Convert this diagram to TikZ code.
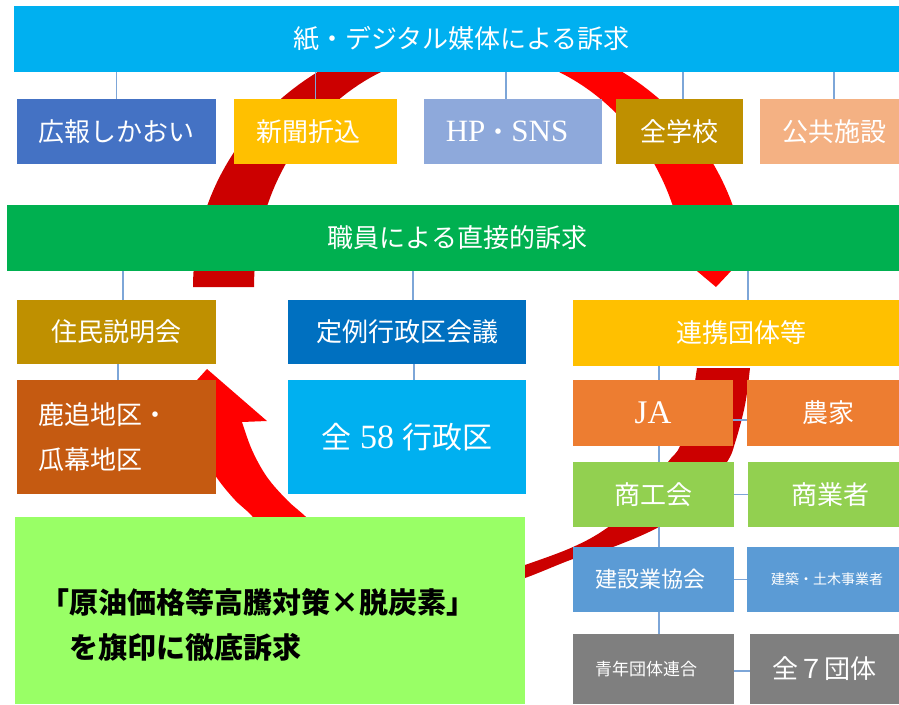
\documentclass[tikz,border=0pt]{standalone}
\usepackage{fontspec}
\setmainfont{Liberation Serif}
\newfontfamily\jp{Noto Sans CJK JP}
\pgfdeclarelayer{bg}
\pgfdeclarelayer{mid}
\pgfsetlayers{bg,mid,main}
\definecolor{cTop}{HTML}{00B0F0}
\definecolor{cBlueA}{HTML}{4472C4}
\definecolor{cGold}{HTML}{FFC000}
\definecolor{cHP}{HTML}{8EA9DB}
\definecolor{cOchre}{HTML}{BF9000}
\definecolor{cPeach}{HTML}{F4B183}
\definecolor{cGreen}{HTML}{00B050}
\definecolor{cDeep}{HTML}{0070C0}
\definecolor{cBrown}{HTML}{C55A11}
\definecolor{cOrange}{HTML}{ED7D31}
\definecolor{cLime}{HTML}{92D050}
\definecolor{cSteel}{HTML}{5B9BD5}
\definecolor{cGray}{HTML}{7F7F7F}
\definecolor{cSlogan}{HTML}{99FF66}
\definecolor{cDarkRed}{HTML}{CC0000}
\definecolor{cRed}{HTML}{FF0000}
\definecolor{cLine}{HTML}{7DA6D8}
\begin{document}
\begin{tikzpicture}[x=1pt,y=-1pt,
  box/.style={anchor=north west, inner sep=0pt, outer sep=0pt, draw=none, text=white,
    font=\jp\fontsize{26}{30}\selectfont},
  conn/.style={draw=cLine, line width=1.3pt}]
\useasboundingbox (0,0) rectangle (899,704);
% ---------- boxes ----------
\node[box, fill=cTop, minimum width=885pt, minimum height=66pt] (top) at (14,6) {\hspace*{10pt}紙・デジタル媒体による訴求};
\node[box, fill=cBlueA, minimum width=199pt, minimum height=65pt] (koho) at (17,99) {広報しかおい};
\node[box, fill=cGold, minimum width=163pt, minimum height=65pt] (shinbun) at (234,99) {新聞折込\hspace*{15pt}};
\node[box, fill=cHP, minimum width=178pt, minimum height=65pt, font=\rmfamily\fontsize{31}{34}\selectfont] (hp) at (424,99) {HP{\jp\fontsize{26}{30}\selectfont ・}SNS\hspace*{12pt}};
\node[box, fill=cOchre, minimum width=127pt, minimum height=65pt] (gakko) at (616,99) {全学校};
\node[box, fill=cPeach, minimum width=139pt, minimum height=65pt] (koukyo) at (760,99) {\hspace*{9pt}公共施設};
\node[box, fill=cGreen, minimum width=892pt, minimum height=66pt] (green) at (7,205) {\hspace*{9pt}職員による直接的訴求};
\node[box, fill=cOchre, minimum width=199pt, minimum height=64pt] (jumin) at (17,300) {住民説明会};
\node[box, fill=cDeep, minimum width=238pt, minimum height=64pt] (teirei) at (288,300) {定例行政区会議};
\node[box, fill=cGold, minimum width=326pt, minimum height=66pt] (renkei) at (573,300) {\hspace*{11pt}連携団体等};
\node[box, fill=cBrown, minimum width=199pt, minimum height=114pt, inner xsep=21pt,
  text width=157pt, align=left, font=\jp\fontsize{26}{45}\selectfont] (shikaoi) at (17,380) {鹿追地区・\\瓜幕地区};
\node[box, fill=cTop, minimum width=238pt, minimum height=114pt,
  font=\fontsize{34}{38}\selectfont] (zen58) at (288,380) {{\jp\fontsize{30}{34}\selectfont 全} 58 {\jp\fontsize{30}{34}\selectfont 行政区}};
\node[box, fill=cOrange, minimum width=160pt, minimum height=66pt, font=\rmfamily\fontsize{33}{36}\selectfont] (ja) at (573,380) {JA};
\node[box, fill=cOrange, minimum width=152pt, minimum height=66pt] (nouka) at (747,380) {\hspace*{10pt}農家};
\node[box, fill=cLime, minimum width=161pt, minimum height=65pt] (shoko) at (573,462) {商工会};
\node[box, fill=cLime, minimum width=151pt, minimum height=65pt] (shogyo) at (748,462) {\hspace*{13pt}商業者};
\node[box, fill=cSteel, minimum width=161pt, minimum height=65pt, font=\jp\fontsize{22}{26}\selectfont] (kensetsu) at (573,547) {建設業協会\hspace*{6pt}};
\node[box, fill=cSteel, minimum width=152pt, minimum height=65pt, font=\jp\fontsize{14}{17}\selectfont] (kenchiku) at (747,547) {\hspace*{8pt}建築・土木事業者};
\node[box, fill=cGray, minimum width=161pt, minimum height=70pt, font=\jp\fontsize{17}{20}\selectfont] (seinen) at (573,634) {青年団体連合\hspace*{15pt}};
\node[box, fill=cGray, minimum width=149pt, minimum height=70pt] (zen7) at (750,634) {全７団体};
\node[box, fill=cSlogan, minimum width=510pt, minimum height=187pt] (sloganbox) at (15,517) {};
\node[anchor=west, align=left, inner sep=0pt, text=black,
  font=\jp\bfseries\fontsize{29}{45}\selectfont] (slogan) at (40,624.5) {「原油価格等高騰対策×脱炭素」\\　を旗印に徹底訴求};
% ---------- red cycle arrows ----------
\begin{pgfonlayer}{bg}
\fill[cDarkRed] plot[domain=180:270.5, samples=50] ({470+277*cos(\x)},{287+257.5*sin(\x)})
  -- plot[domain=270.5:180, samples=50] ({470+216*cos(\x)},{287+236*sin(\x)}) -- cycle;
\fill[cRed] plot[domain=270:348, samples=50] ({470+277*cos(\x)},{287+257.5*sin(\x)})
  -- (765,235) -- (716,287) -- (660,240)
  -- plot[domain=348:270, samples=50] ({470+216*cos(\x)},{287+236*sin(\x)}) -- cycle;
\fill[cDarkRed] plot[smooth, tension=0.6] coordinates {(750,368) (745,405) (735,443) (727,462) (700,500) (657,528) (605,550) (573,559) (525,578) (480,592)}
  -- plot[smooth, tension=0.6] coordinates {(480,580) (525,565) (573,547) (607,528) (640,500) (668,462) (680,446) (690,410) (697,368)} -- cycle;
\fill[cRed] (207,369) -- (267,421) -- (242,422)
  -- plot[smooth, tension=0.6] coordinates {(242,422) (252,450) (267,477) (287,500) (305,516) (330,540) (360,560)}
  -- plot[smooth, tension=0.6] coordinates {(300,575) (270,540) (252,516) (235,500) (217,478) (200,450) (192,422)}
  -- (160,421) -- cycle;
\end{pgfonlayer}
% ---------- connectors ----------
\begin{pgfonlayer}{mid}
\draw[conn] (koho.north) -- (koho.north |- top.south);
\draw[conn] (shinbun.north) -- (shinbun.north |- top.south);
\draw[conn] ([xshift=-7pt]hp.north) -- ([xshift=-7pt]hp.north |- top.south);
\draw[conn] ([xshift=3.5pt]gakko.north) -- ([xshift=3.5pt]gakko.north |- top.south);
\draw[conn] ([xshift=4.5pt]koukyo.north) -- ([xshift=4.5pt]koukyo.north |- top.south);
\draw[conn] ([xshift=6.5pt]jumin.north) -- ([xshift=6.5pt]jumin.north |- green.south);
\draw[conn] ([xshift=6pt]teirei.north) -- ([xshift=6pt]teirei.north |- green.south);
\draw[conn] ([xshift=12pt]renkei.north) -- ([xshift=12pt]renkei.north |- green.south);
\draw[conn] ([xshift=1.5pt]shikaoi.north) -- ([xshift=1.5pt]shikaoi.north |- jumin.south);
\draw[conn] ([xshift=7pt]zen58.north) -- ([xshift=7pt]zen58.north |- teirei.south);
\coordinate (vtop) at ([xshift=6pt]ja.north |- renkei.south);
\coordinate (vbot) at ([xshift=6pt]ja.north |- seinen.north);
\draw[conn] (vtop) -- (vbot);
\draw[conn] ([yshift=-7pt]ja.east) -- ([yshift=-7pt]nouka.west);
\draw[conn] (shoko.east) -- (shogyo.west);
\draw[conn] (kensetsu.east) -- (kenchiku.west);
\draw[conn] ([yshift=-2pt]seinen.east) -- ([yshift=-2pt]zen7.west);
\end{pgfonlayer}
\end{tikzpicture}
\end{document}
